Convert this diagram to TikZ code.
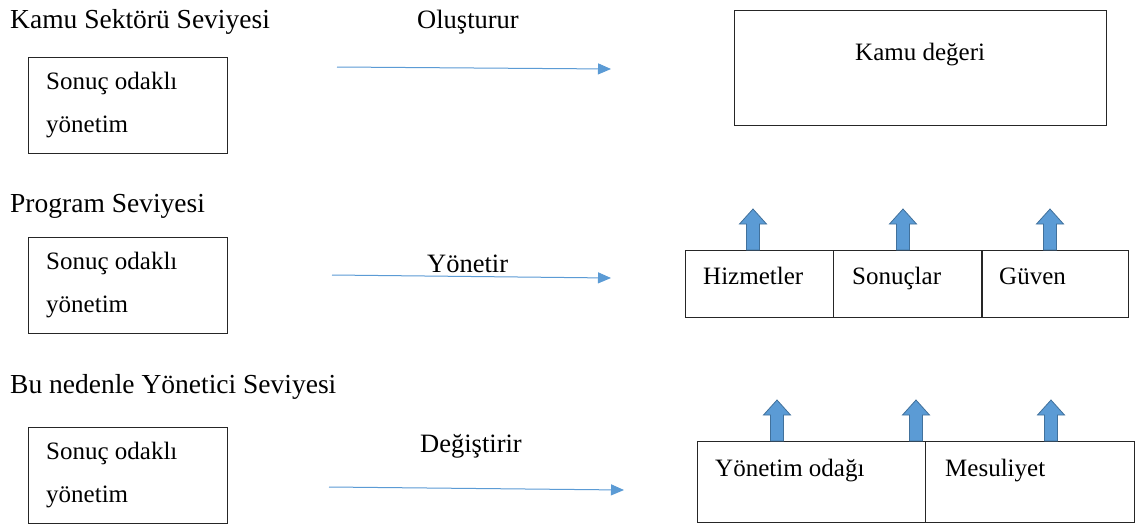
\documentclass[tikz,border=0pt]{standalone}
\usepackage{fontspec}
\setmainfont{Liberation Serif}
\usetikzlibrary{arrows.meta}
\begin{document}
\begin{tikzpicture}[x=1pt,y=-1pt,
  level/.style={anchor=base west,inner sep=0pt,font=\fontsize{27.5}{30}\selectfont},
  verb/.style={anchor=base west,inner sep=0pt,font=\fontsize{26.5}{30}\selectfont},
  label/.style={anchor=base west,inner sep=0pt,font=\fontsize{25}{28}\selectfont},
  frame/.style={draw=black!85,line width=0.9pt},
  flow/.style={draw=flowblue,line width=1pt,-{Triangle[length=13pt,width=11pt]}},
  pics/uparrow/.style={code={
    \filldraw[fill=blockfill,draw=blockedge,line width=0.8pt]
      (-6.5,0) -- (-6.5,-26) -- (-13.5,-26) -- (0,-41) -- (13.5,-26) -- (6.5,-26) -- (6.5,0) -- cycle;}}]
\definecolor{flowblue}{HTML}{5B9BD5}
\definecolor{blockfill}{HTML}{5B9BD5}
\definecolor{blockedge}{HTML}{41719C}
\useasboundingbox[fill=white] (0,0) rectangle (1136,525);

% level headings
\node[level] (h1) at (10,28) {Kamu Sektörü Seviyesi};
\node[level] (h2) at (10,212) {Program Seviyesi};
\node[level] (h3) at (10,393) {Bu nedenle Yönetici Seviyesi};

% left boxes
\foreach \i/\t in {1/57,2/237,3/427}{
  \draw[frame] (28,\t) rectangle (227,\t+96);
  \node[label] (s\i) at (46,\t+32) {Sonuç odaklı};
  \node[label] (y\i) at (46,\t+75) {yönetim};
}

% verbs and flow arrows
\node[verb] (v1) at (417,28) {Oluşturur};
\node[verb] (v2) at (427,272) {Yönetir};
\node[verb] (v3) at (420,452) {Değiştirir};
\coordinate (a1s) at (337,67);  \coordinate (a1e) at (611,69);
\coordinate (a2s) at (332,275); \coordinate (a2e) at (611,278);
\coordinate (a3s) at (329,487); \coordinate (a3e) at (624,490);
\draw[flow] (a1s) -- (a1e);
\draw[flow] (a2s) -- (a2e);
\draw[flow] (a3s) -- (a3e);

% public value
\draw[frame] (734,10) rectangle (1106,125);
\node[label] (kd) at (855,60) {Kamu değeri};

% program level outputs
\draw[frame] (685,250) rectangle (833,317);
\draw[frame] (833,250) rectangle (981,317);
\draw[frame] (982,250) rectangle (1128,317);
\node[label] (hz) at (703,284) {Hizmetler};
\node[label] (sn) at (852,284) {Sonuçlar};
\node[label] (gv) at (999,284) {Güven};
\pic at (753,250) {uparrow};
\pic at (903,250) {uparrow};
\pic at (1050,250) {uparrow};

% manager level outputs
\draw[frame] (697,441) rectangle (925,522);
\draw[frame] (925,441) rectangle (1134,522);
\node[label] (yo) at (715,476) {Yönetim odağı};
\node[label] (ms) at (945,476) {Mesuliyet};
\pic at (777,441) {uparrow};
\pic at (916,441) {uparrow};
\pic at (1051,441) {uparrow};
\end{tikzpicture}
\end{document}
